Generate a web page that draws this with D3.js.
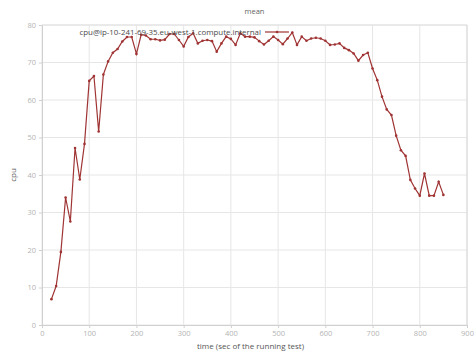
<!DOCTYPE html>
<html>
<head>
<meta charset="utf-8">
<script src="https://cdn.jsdelivr.net/npm/d3@7"></script>
<style>
  html, body { margin: 0; padding: 0; background: #fff; }
  svg { display: block; font-family: "Open Sans", "DejaVu Sans", sans-serif; }
</style>
</head>
<body>
<svg id="chart" width="475" height="357"></svg>
<script>
// Mean CPU over the run, sampled every 10 seconds
const seconds = [20, 30, 40, 50, 60, 70, 80, 90, 100, 110, 120, 130, 140, 150, 160, 170, 180, 190,
  200, 210, 220, 230, 240, 250, 260, 270, 280, 290, 300, 310, 320, 330, 340, 350, 360, 370, 380, 390,
  400, 410, 420, 430, 440, 450, 460, 470, 480, 490, 500, 510, 520, 530, 540, 550, 560, 570, 580, 590,
  600, 610, 620, 630, 640, 650, 660, 670, 680, 690, 700, 710, 720, 730, 740, 750, 760, 770, 780, 790,
  800, 810, 820, 830, 840, 850];
const cpu = [6.9, 10.4, 19.5, 34.0, 27.6, 47.2, 38.8, 48.3, 65.1, 66.4, 51.6, 66.8, 70.3, 72.6, 73.6, 75.6, 76.8, 76.8,
  72.3, 77.4, 77.2, 76.2, 76.2, 75.9, 76.1, 77.6, 77.6, 76.0, 74.3, 76.8, 77.8, 75.1, 75.8, 76.0, 75.7, 72.9, 75.1, 76.9,
  76.3, 74.7, 77.8, 76.9, 76.9, 76.7, 75.7, 74.8, 75.8, 76.9, 76.0, 74.9, 76.4, 78.0, 74.7, 76.9, 75.8, 76.4, 76.6, 76.4,
  75.8, 74.7, 74.8, 75.1, 73.9, 73.3, 72.4, 70.5, 72.0, 72.6, 68.4, 65.3, 60.9, 57.5, 56.0, 50.5, 46.6, 45.1, 38.7, 36.4,
  34.5, 40.4, 34.5, 34.5, 38.2, 34.7];
const xTicks = [0, 100, 200, 300, 400, 500, 600, 700, 800, 900];
const yTicks = [0, 10, 20, 30, 40, 50, 60, 70, 80];
const seriesName = "cpu@ip-10-241-69-35.eu-west-1.compute.internal";
const chartTitle = "mean";
const xLabel = "time (sec of the running test)";
const yLabel = "cpu";

const svg = d3.select("#chart");
const margin = { left: 42, right: 8, top: 25, bottom: 32 };
const W = 475, H = 357;
const x = d3.scaleLinear().domain([0, 900]).range([margin.left, W - margin.right]);
const y = d3.scaleLinear().domain([0, 80]).range([H - margin.bottom, margin.top]);

const lineColor = "#a03434";
const gridColor = "#e6e6e6";
const tickColor = "#b4b4b4";

// grid
const grid = svg.append("g");
grid.selectAll(".gx").data(xTicks).join("line")
  .attr("x1", d => x(d)).attr("x2", d => x(d))
  .attr("y1", y(0)).attr("y2", y(80))
  .attr("stroke", gridColor).attr("stroke-width", 1);
grid.selectAll(".gy").data(yTicks).join("line")
  .attr("x1", x(0)).attr("x2", x(900))
  .attr("y1", d => y(d)).attr("y2", d => y(d))
  .attr("stroke", gridColor).attr("stroke-width", 1);

// axes
const xAxis = svg.append("g").attr("transform", `translate(0,${y(0)})`)
  .call(d3.axisBottom(x).tickValues(xTicks).tickSize(3).tickPadding(3).tickFormat(d3.format("d")));
const yAxis = svg.append("g").attr("transform", `translate(${x(0)},0)`)
  .call(d3.axisLeft(y).tickValues(yTicks).tickSize(3).tickPadding(3).tickFormat(d3.format("d")));
[xAxis, yAxis].forEach(a => {
  a.select(".domain").attr("stroke", "#d0d0d0");
  a.selectAll(".tick line").attr("stroke", "#d0d0d0");
  a.selectAll(".tick text").attr("fill", tickColor).attr("font-size", 7.5)
    .attr("font-family", "\"Open Sans\", sans-serif");
});
// frame right/top
svg.append("line").attr("x1", x(900)).attr("x2", x(900)).attr("y1", y(0)).attr("y2", y(80))
  .attr("stroke", "#d8d8d8");
svg.append("line").attr("x1", x(0)).attr("x2", x(900)).attr("y1", y(80)).attr("y2", y(80))
  .attr("stroke", "#e0e0e0");

// series
const pts = seconds.map((t, i) => [t, cpu[i]]);
svg.append("path").datum(pts)
  .attr("fill", "none").attr("stroke", lineColor).attr("stroke-width", 1.2)
  .attr("d", d3.line().x(d => x(d[0])).y(d => y(d[1])));
svg.append("g").selectAll("circle").data(pts).join("circle")
  .attr("cx", d => x(d[0])).attr("cy", d => y(d[1])).attr("r", 1.3)
  .attr("fill", lineColor);

// title and labels
svg.append("text").attr("x", (x(0) + x(900)) / 2).attr("y", 14)
  .attr("text-anchor", "middle").attr("font-size", 7.5).attr("fill", "#666").text(chartTitle);
svg.append("text").attr("x", (x(0) + x(900)) / 2 - 4).attr("y", 349)
  .attr("text-anchor", "middle").attr("font-size", 8).attr("fill", "#555").text(xLabel);
svg.append("text").attr("transform", `translate(16,${(y(0) + y(80)) / 2}) rotate(-90)`)
  .attr("text-anchor", "middle").attr("font-size", 8).attr("fill", "#555").text(yLabel);

// legend
const legend = svg.append("g");
legend.append("text").attr("x", 261).attr("y", 35)
  .attr("text-anchor", "end").attr("font-size", 7.9).attr("fill", "#4a4a4a").text(seriesName);
legend.append("line").attr("x1", 265).attr("x2", 289).attr("y1", 32).attr("y2", 32)
  .attr("stroke", lineColor).attr("stroke-width", 1.2);
legend.append("circle").attr("cx", 277).attr("cy", 32).attr("r", 1.3).attr("fill", lineColor);
</script>
</body>
</html>
